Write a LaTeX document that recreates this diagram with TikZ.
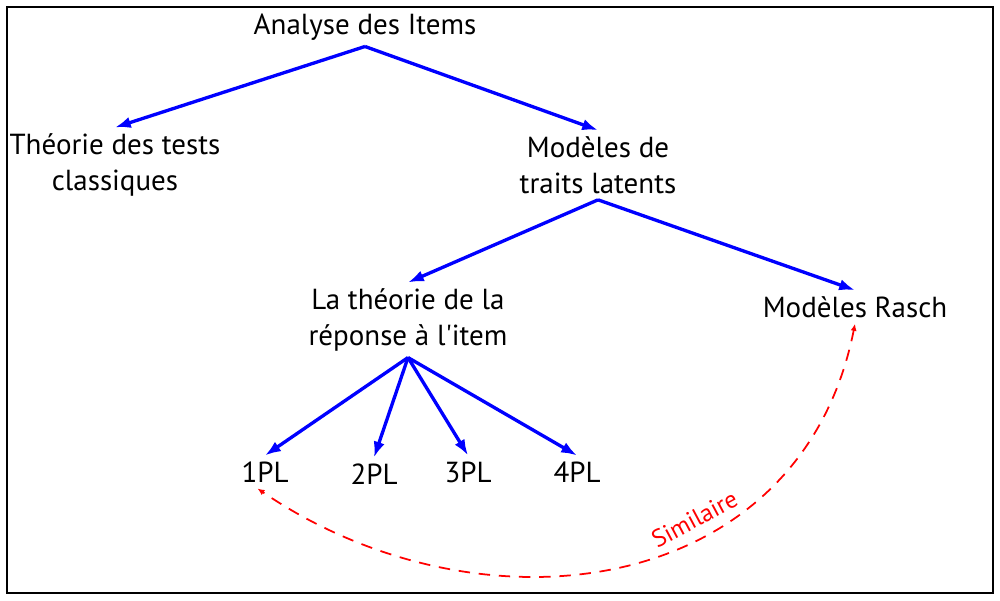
\documentclass[tikz,border=0pt]{standalone}
\usepackage{fontspec}
\setmainfont{PT Sans}
\usepackage{tikz}
\usetikzlibrary{arrows.meta}

\tikzset{
  lbl/.style={font=\fontsize{16.5}{20.5}\selectfont, align=center},
  branch/.style={-{Latex[length=9pt,width=6.5pt]}, blue, line width=1.9pt},
  similar/.style={{Latex[length=4pt,width=3.5pt]}-{Latex[length=4pt,width=3.5pt]}, red,
                  line width=1pt, dash pattern=on 6.5pt off 5pt}
}

\begin{document}
\begin{tikzpicture}[x=0.02cm,y=0.02cm]
\useasboundingbox (0,0) rectangle (1000,600);

% Frame
\draw[line width=1.2pt] (7,7) rectangle (993,593);

% Tree labels
\node[lbl] (items) at (365,573) {Analyse des Items};
\node[lbl] (classic) at (115,435) {Théorie des tests\\classiques};
\node[lbl] (latent) at (598,435) {Modèles de\\traits latents};
\node[lbl] (irt) at (408,280) {La théorie de la\\réponse à l\textquotesingle item};
\node[lbl] (rasch) at (855,293) {Modèles Rasch};
\node[lbl] (pl1) at (265,128) {1PL};
\node[lbl] (pl2) at (374,126) {2PL};
\node[lbl] (pl3) at (468,128) {3PL};
\node[lbl] (pl4) at (577,128) {4PL};

% Branches
\draw[branch] (items.south) -- (classic.north);
\draw[branch] (items.south) -- (latent.north);
\draw[branch] (latent.south) -- (irt.north);
\draw[branch] (latent.south) -- (rasch.north);
\foreach \p in {pl1, pl2, pl3, pl4}
    \draw[branch] (irt.south) -- (\p.north);

% Similarity link
\draw[similar] (rasch.south) .. controls (800,0) and (480,-40) .. ([xshift=-0.15cm]pl1.south)
    node[pos=0.37, sloped, above=2pt, font=\fontsize{14}{16}\selectfont] {Similaire};

\end{tikzpicture}
\end{document}
